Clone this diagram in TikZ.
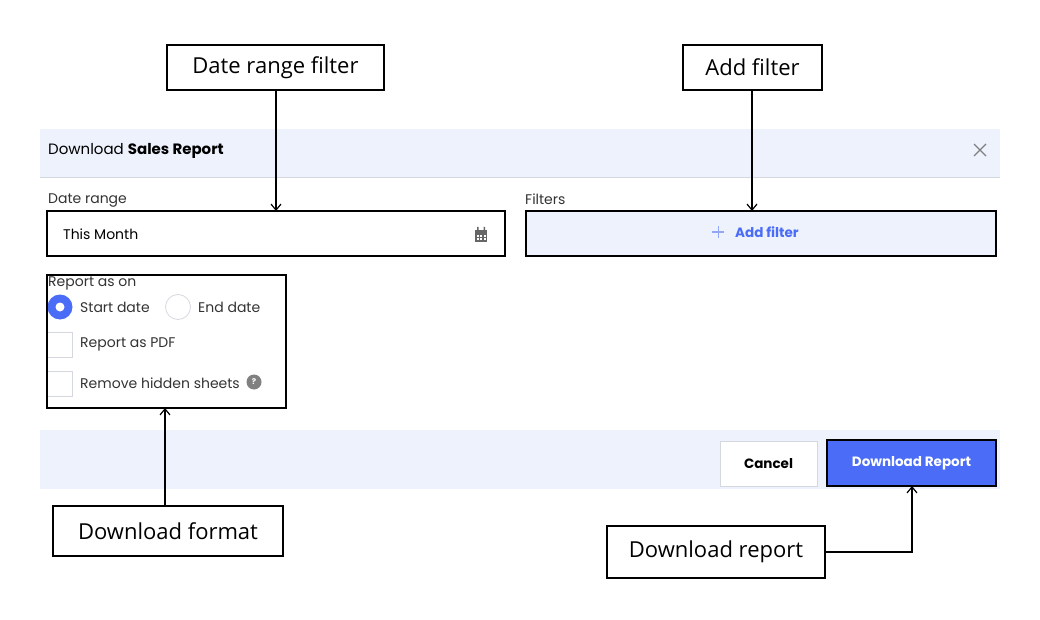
\documentclass[tikz,border=0pt]{standalone}
\usepackage{fontspec}
\setmainfont{Open Sans}
\newfontfamily\ui{Poppins}
\usetikzlibrary{arrows.meta}
\definecolor{band}{HTML}{EDF2FD}
\definecolor{blu}{HTML}{4A6CF7}
\definecolor{lg}{HTML}{D5D8DE}
\definecolor{tx}{HTML}{333333}
\tikzset{
 callout/.style={draw=black,line width=1.2pt,fill=white,font=\fontsize{22}{26}\selectfont,inner sep=0pt},
 lbl/.style={anchor=west,inner sep=0pt,text=tx,font=\ui\fontsize{14}{16}\selectfont},
 arr/.style={-{Straight Barb[length=6pt,width=10pt]},line width=1.2pt},
 frame/.style={draw=black,line width=1.6pt}
}
\begin{document}
\begin{tikzpicture}[x=1pt,y=-1pt]
\useasboundingbox (0,0) rectangle (1040,620);
% header
\fill[band] (40,129) rectangle (1000,178);
\draw[lg,line width=1pt] (40,178) -- (1000,178);
\node[lbl,text=black,font=\ui\fontsize{15}{17}\selectfont] (title) at (48,151) {Download \textbf{Sales Report}};
\draw[gray,line width=1.2pt] (974,144) -- (986,156) (974,156) -- (986,144);
\node[lbl] (drl) at (48,201) {Date range};
\node[lbl] (fl) at (525,199) {Filters};
% date box
\draw[frame] (47,211) rectangle (505,256);
\node[lbl,text=black] (tm) at (63,234) {This Month};
\fill[gray!80!black] (475,230) rectangle (487,242);
\fill[gray!80!black] (477,227) rectangle (478.5,231) (483.5,227) rectangle (485,231);
\foreach \i in {0,1,2}{\foreach \j in {0,1}{\fill[white] (476.5+\i*3.5,235+\j*3.3) rectangle ++(2,2);}}
\coordinate (dtop) at (276,211);
% filter box
\draw[frame,fill=band] (526,211) rectangle (996,256);
\coordinate (ftop) at (752,211);
\draw[blu!60,line width=1pt] (712,232) -- (724,232) (718,226) -- (718,238);
\node[lbl,text=blu,font=\ui\bfseries\fontsize{13.5}{15}\selectfont] (af) at (735,232) {Add filter};
% report as on
\node[lbl] (rao) at (48,283) {Report as on};
\fill[blu] (60,307) circle (12.5);
\fill[white] (60,307) circle (4.5);
\node[lbl] (sd) at (80,307) {Start date};
\draw[lg,line width=0.8pt] (178,307) circle (12.5);
\node[lbl] (ed) at (198,307) {End date};
\draw[lg,line width=1pt] (47,332) rectangle (72,357) (47,371) rectangle (72,396);
\node[lbl] (pdf) at (80,344) {Report as PDF};
\node[lbl] (rhs) at (80,383) {Remove hidden sheets};
\fill[gray] (254,382) circle (7.5);
\node[text=white,font=\ui\bfseries\fontsize{8}{9}\selectfont,inner sep=0pt] (q) at (254,382) {?};
\draw[frame] (47,275) rectangle (286,408);
\coordinate (fbot) at (165,408);
% footer
\fill[band] (40,430) rectangle (1000,489);
\draw[lg,fill=white,line width=1pt] (720,441) rectangle (817,486);
\node[font=\ui\bfseries\fontsize{13.5}{15}\selectfont,inner sep=0pt] (cancel) at (768.5,463.5) {Cancel};
\draw[frame,fill=blu] (827,440) rectangle (996,486);
\node[text=white,font=\ui\bfseries\fontsize{13.5}{15}\selectfont,inner sep=0pt] (dl) at (911.5,463.5) {Download Report};
\coordinate (dbot) at (912,486);
% callouts
\node[callout,minimum width=217pt,minimum height=45pt] (c1) at (275.5,67.5) {Date range filter};
\node[callout,minimum width=139pt,minimum height=45pt] (c2) at (752.5,67.5) {Add filter};
\node[callout,minimum width=230pt,minimum height=50pt] (c3) at (168,531) {Download format};
\node[callout,minimum width=218pt,minimum height=52pt] (c4) at (716,552) {Download report};
\draw[arr] (c1.south -| dtop) -- (dtop);
\draw[arr] (c2.south -| ftop) -- (ftop);
\draw[arr] (c3.north -| fbot) -- (fbot);
\draw[arr] (c4.east) -| (dbot);
\end{tikzpicture}
\end{document}
